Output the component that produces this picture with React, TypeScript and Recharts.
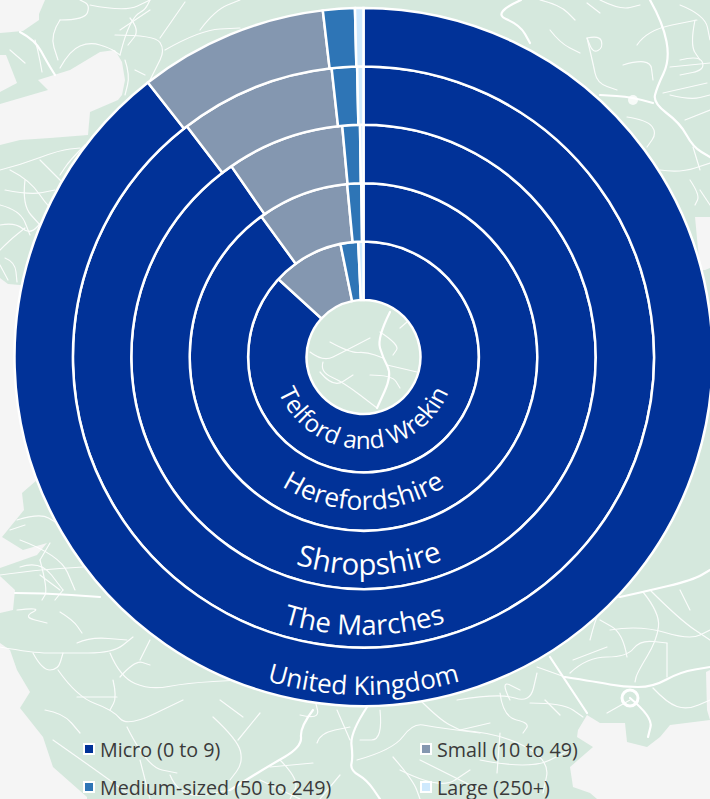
import React from 'react';
import { PieChart, Pie, Cell, Legend } from 'recharts';

// rings run from the centre outwards
const regions = ['Telford and Wrekin', 'Herefordshire', 'Shropshire', 'The Marches', 'United Kingdom'];
const sizeBands = ['Micro (0 to 9)', 'Small (10 to 49)', 'Medium-sized (50 to 249)', 'Large (250+)'];
const micro = [86.8, 90.0, 90.36, 89.6, 89.4];
const small = [10.0, 8.5, 8.18, 8.65, 8.74];
const medium = [2.47, 1.3, 1.22, 1.4, 1.47];
const large = [0.73, 0.2, 0.24, 0.35, 0.39];

const bandColors = ['#013298', '#8497b0', '#2e75b6', '#cfe9fd'];

const WIDTH = 710;
const HEIGHT = 799;
const CX = 363.5;
const CY = 357;
const HOLE = 57;
const RING = 58.4;

// curved ring captions: baseline radius, type size, position along the arc
const captionRadius = [92, 153, 218, 278, 338];
const captionSize = [24.3, 26.4, 29.5, 27.6, 26];
const captionOffset = ['50%', '50%', '50.9%', '50.1%', '50%'];

const LAND = '#d5e8dd';
const SEA = '#f5f5f5';

const seaShapes = [
  '0,0 45,0 39,14 39,20 23,31 0,33',
  '0,55 6,55 17,83 0,92',
  '0,104 48,90 38,80 70,70 100,52 115,50 122,62 125,80 122,95 118,100 90,112 88,135 50,138 20,140 0,145',
  '0,278 8,284 20,285 40,285 40,480 0,480',
  '0,480 37,480 22,493 24,510 2,537 23,550 47,543 37,555 0,568',
  '0,576 15,590 13,610 0,613',
  '0,643 10,650 17,670 30,692 20,708 43,737 53,767 87,797 87,799 0,799',
  '695,217 710,217 710,268 705,270 700,270',
  '710,720 670,725 660,737 647,747 627,742 625,723 600,723 587,715 578,730 577,737 593,747 570,767 573,787 590,793 597,799 710,799',
  '710,670 706,672 707,710 710,720',
];

const mainRoads = [
  'M20 32L35 40L47 62L55 75',
  'M521 0L492 13L520 25L530 43',
  'M650 0L663 23L670 60L657 87L653 103L680 123L693 147L710 157',
  'M367 707L350 733L353 757L350 770L367 780L380 799',
  'M313 710L300 727L302 747L267 767L230 790',
  'M550 657L587 713',
  'M565 677L597 682L623 687L653 687L680 672L710 667',
  'M390 312L377 338L383 358L392 375L377 408',
  'M15 593L43 593L100 597',
  'M620 597L643 592L693 580L710 570',
  'M653 103L633 97L600 95',
  'M630 698L653 717L648 737',
];

const minorRoads = [
  'M35 40L38 50L42 72', 'M60 68L70 50L90 42L110 48L120 55', 'M120 55L125 35L135 15L145 10L150 0',
  'M60 20L85 20L90 5L80 0', 'M115 35L155 35L165 50L155 70L150 80', 'M160 38L185 2', 'M125 60L130 75L125 95',
  'M135 70L145 75', 'M0 170L20 165L60 150L80 148', 'M10 170L30 180L50 210L65 215L85 200', 'M0 205L20 210L30 235',
  'M40 160L55 175L70 190', 'M85 145L70 160L60 175', 'M10 50L25 63', 'M165 50L200 30L240 28', 'M150 10L120 30',
  'M60 20L50 35L58 60', 'M90 5L125 12L150 0', 'M130 18L140 30L128 45', 'M200 30L215 10L240 0', 'M5 190L30 195L55 190',
  'M25 180L22 205L40 225', 'M0 225L15 222L30 235L45 218', 'M0 250L10 240L25 228', 'M5 258L15 262L17 282', 'M0 265L8 280',
  'M587 38L593 63L597 83L617 90', 'M550 30L560 43L580 53', 'M637 45L647 30L697 20', 'M670 67L710 63',
  'M623 65L650 57L653 80', 'M663 93L707 83', 'M587 3L600 13', 'M627 117L647 120L657 133L647 147',
  'M660 170L680 173L710 163', 'M587 38L600 35L603 48L593 53L587 38', 'M680 60L700 55L705 70L680 75',
  'M540 0L560 5L575 20', 'M600 0L620 10L640 5', 'M685 120L710 110', 'M693 147L700 170', 'M670 95L690 100L710 95',
  'M680 5L705 15L710 40', 'M695 20L690 45L700 60', 'M700 190L710 205', 'M690 180L700 195L695 205',
  'M20 567L40 560L63 590', 'M0 575L37 570L83 567', 'M17 520L40 513L57 523', 'M10 530L25 525', 'M40 560L50 543',
  'M0 647L33 653L63 653L113 653L133 637', 'M33 653L42 670L58 670L63 653', 'M58 670L77 697L113 710L127 727L183 700',
  'M110 653L120 677L150 690L187 683L240 680', 'M113 680L117 697L110 710', 'M77 697L117 697', 'M127 727L147 767L177 773',
  'M53 740L100 773L127 793', 'M77 643L90 637L127 640', 'M17 610L43 607L23 617L47 623', 'M60 612L73 620L82 633',
  'M45 710L63 713L80 733', 'M20 540L60 555L75 590', 'M40 575L60 590', 'M40 560L48 590L42 600', 'M63 590L55 600',
  'M150 640L140 660', 'M120 677L135 660L150 665',
  'M213 717L238 740L243 763L230 780', 'M238 740L260 713', 'M317 743L320 733L350 727', 'M337 710L350 740',
  'M357 760L393 750L413 723L433 727L480 733', 'M393 757L413 780L420 799', 'M270 767L313 763', 'M380 710L383 740L360 740',
  'M220 700L243 717', 'M280 760L300 780L290 799', 'M140 760L150 799', 'M170 775L180 799L230 790',
  'M300 715L320 720L315 700', 'M420 700L440 720L460 730', 'M400 770L440 790L470 770', 'M260 780L300 799', 'M340 775L320 799',
  'M573 660L607 647', 'M570 673L587 657L627 657L640 640L667 643', 'M627 657L623 633L600 620', 'M643 592L660 613L657 640L637 673L635 682',
  'M667 643L667 677', 'M537 667L565 677', 'M457 700L500 693L530 703L537 673', 'M500 693L503 717L530 723L523 733',
  'M460 730L490 723', 'M530 703L563 703L583 717', 'M607 713L630 700', 'M460 730L500 733L550 760L543 793', 'M500 733L497 773',
  'M653 688L667 703L687 710L710 700', 'M650 590L680 620L710 640', 'M480 760L530 770L570 750', 'M420 760L480 790',
  'M610 630L640 625L690 640L710 630', 'M590 640L600 600L620 597', 'M680 590L690 610', 'M545 700L560 715', 'M510 700L500 680L520 690',
  'M310 352L323 362L343 352L370 338', 'M323 362L320 372L343 382L377 408', 'M330 342L350 353L367 352L383 358',
  'M387 365L417 372', 'M370 375L392 375L400 388', 'M380 332L400 345L393 355', 'M400 328L407 322', 'M320 372L333 388L353 375',
];

// rounds off a road's corners so it doesn't look ruled
const smoothRoad = (d: string) => {
  const pts = d.slice(1).split('L').map((p) => p.split(' ').map(Number));
  if (pts.length < 3) return d;
  let out = `M${pts[0][0]} ${pts[0][1]}`;
  for (let i = 1; i < pts.length - 1; i++) {
    const mx = (pts[i][0] + pts[i + 1][0]) / 2;
    const my = (pts[i][1] + pts[i + 1][1]) / 2;
    out += `Q${pts[i][0]} ${pts[i][1]} ${mx} ${my}`;
  }
  const last = pts[pts.length - 1];
  return `${out}L${last[0]} ${last[1]}`;
};

// faint map of the area behind the chart
const Backdrop = () => (
  <svg width={WIDTH} height={HEIGHT} style={{ position: 'absolute', left: 0, top: 0 }}>
    <rect width={WIDTH} height={HEIGHT} fill={LAND} />
    {seaShapes.map((points) => (
      <polygon key={points} points={points} fill={SEA} />
    ))}
    <g fill="none" stroke="#fff" strokeLinejoin="round" strokeLinecap="round">
      <g strokeWidth={1.2} opacity={0.9}>
        {minorRoads.map((d) => (
          <path key={d} d={smoothRoad(d)} />
        ))}
      </g>
      <g strokeWidth={2.2}>
        {mainRoads.map((d) => (
          <path key={d} d={smoothRoad(d)} />
        ))}
      </g>
    </g>
    <circle cx={630} cy={698} r={8} fill="none" stroke="#fff" strokeWidth={3} />
    <circle cx={633} cy={100} r={5} fill="#fff" opacity={0.8} />
  </svg>
);

// sits over the pies, the arcs share the chart's centre
const RingCaptions = () => (
  <svg width={WIDTH} height={HEIGHT} style={{ position: 'absolute', left: 0, top: 0, pointerEvents: 'none' }}>
    <defs>
      {captionRadius.map((r, i) => (
        <path
          key={regions[i]}
          id={`caption-arc-${i}`}
          d={`M ${CX - r} ${CY} A ${r} ${r} 0 0 0 ${CX + r} ${CY}`}
          fill="none"
        />
      ))}
    </defs>
    {regions.map((name, i) => (
      <text key={name} fill="#fff" fontSize={captionSize[i]} fontFamily="'Open Sans', sans-serif">
        <textPath href={`#caption-arc-${i}`} startOffset={captionOffset[i]} textAnchor="middle">
          {name}
        </textPath>
      </text>
    ))}
  </svg>
);

const legendSpots = [
  { left: 83, top: 743 },
  { left: 420, top: 743 },
  { left: 83, top: 781 },
  { left: 420, top: 781 },
];

const BandLegend = () => (
  <div>
    {sizeBands.map((band, i) => (
      <div
        key={band}
        style={{
          position: 'absolute',
          left: legendSpots[i].left,
          top: legendSpots[i].top,
          display: 'flex',
          alignItems: 'center',
          height: 12,
          whiteSpace: 'nowrap',
          color: '#3a3a3a',
          fontFamily: "'Open Sans', sans-serif",
          fontSize: 19.7,
        }}
      >
        <span
          style={{
            width: 8,
            height: 8,
            border: '2px solid #fff',
            background: bandColors[i],
            marginRight: 5,
          }}
        />
        {band}
      </div>
    ))}
  </div>
);

const ringData = (ring: number) =>
  [micro, small, medium, large].map((band, i) => ({ name: sizeBands[i], value: band[ring] }));

export default function App() {
  return (
    <div style={{ position: 'absolute', left: 0, top: 0, width: WIDTH, height: HEIGHT, overflow: 'hidden', background: SEA }}>
      <Backdrop />
      <PieChart width={WIDTH} height={HEIGHT} margin={{ top: 0, right: 0, bottom: 0, left: 0 }} style={{ position: 'absolute', left: 0, top: 0 }}>
        {regions.map((name, ring) => (
          <Pie
            key={name}
            name={name}
            data={ringData(ring)}
            dataKey="value"
            cx={CX}
            cy={CY}
            innerRadius={HOLE + ring * RING}
            outerRadius={HOLE + (ring + 1) * RING}
            startAngle={90}
            endAngle={-270}
            stroke="#fff"
            strokeWidth={2.5}
            label={false}
            labelLine={false}
            isAnimationActive={false}
          >
            {sizeBands.map((band, i) => (
              <Cell key={band} fill={bandColors[i]} />
            ))}
          </Pie>
        ))}
        <Legend content={BandLegend} wrapperStyle={{ position: 'absolute', left: 0, top: 0, width: 0, height: 0 }} />
      </PieChart>
      <RingCaptions />
    </div>
  );
}
